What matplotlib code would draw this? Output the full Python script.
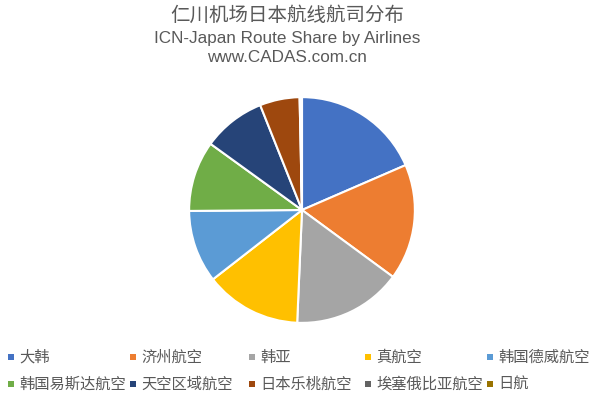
import matplotlib
matplotlib.use("Agg")
import matplotlib.pyplot as plt
from matplotlib.patches import Rectangle

plt.rcParams['font.family'] = ['Noto Sans CJK SC', 'DejaVu Sans']

airlines = ["大韩", "济州航空", "韩亚", "真航空", "韩国德威航空",
            "韩国易斯达航空", "天空区域航空", "日本乐桃航空", "埃塞俄比亚航空", "日航"]
shares = [18.5, 16.6, 15.6, 13.8, 10.4, 10.1, 9.0, 5.7, 0.17, 0.17]
colors = ["#4472C4", "#ED7D31", "#A5A5A5", "#FFC000", "#5B9BD5",
          "#70AD47", "#264478", "#9E480E", "#636363", "#997300"]

W, H = 598, 402
fig = plt.figure(figsize=(W / 100, H / 100), dpi=100)
fig.patch.set_facecolor("white")

txtc = "#595959"
tx = 287 / W
fig.text(tx, 1 - 15 / H, "仁川机场日本航线航司分布", ha="center", va="center",
         fontsize=14, color=txtc, family=['Noto Sans CJK SC', 'DejaVu Sans'])
fig.text(tx, 1 - 39 / H, "ICN-Japan Route Share by Airlines", ha="center", va="center",
         fontsize=12.3, color=txtc, family=['Liberation Sans', 'DejaVu Sans'])
fig.text(tx, 1 - 57 / H, "www.CADAS.com.cn", ha="center", va="center",
         fontsize=12.3, color=txtc, family=['Liberation Sans', 'DejaVu Sans'])

cx, cy, r = 302, 211, 114
ax = fig.add_axes([(cx - r) / W, (H - cy - r) / H, 2 * r / W, 2 * r / H])
ax.pie(shares, colors=colors, startangle=90, counterclock=False,
       wedgeprops=dict(edgecolor="white", linewidth=1.5))
ax.set_xlim(-1.01, 1.01)
ax.set_ylim(-1.01, 1.01)
ax.set_aspect("equal")
ax.axis("off")

col_x = [8, 130, 249, 365, 487]
row_y = [357, 384]
for i, (name, c) in enumerate(zip(airlines, colors)):
    x = col_x[i % 5]
    y = row_y[i // 5]
    fig.patches.append(Rectangle((x / W, (H - y - 3.5) / H), 6 / W, 6 / H,
                                 transform=fig.transFigure, facecolor=c,
                                 edgecolor="none", figure=fig))
    fig.text((x + 11) / W, 1 - y / H, name, ha="left", va="center",
             fontsize=11, color=txtc)

fig.savefig("out.png", dpi=100, facecolor="white")
